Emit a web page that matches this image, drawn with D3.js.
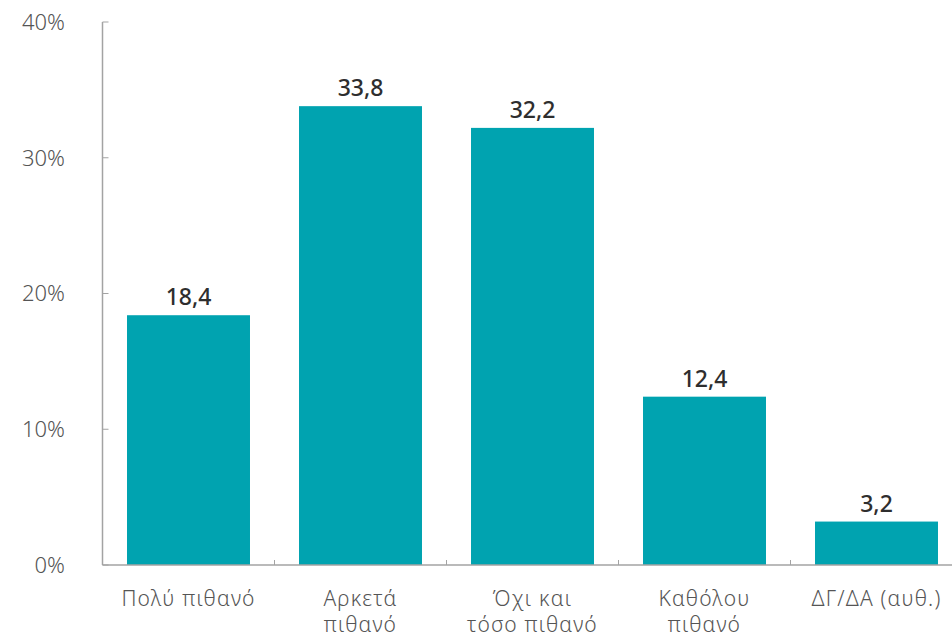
<!DOCTYPE html>
<html>
<head>
<meta charset="utf-8">
<script src="https://cdn.jsdelivr.net/npm/d3@7"></script>
<style>
  html, body { margin: 0; padding: 0; background: #fff; }
  svg { display: block; }
</style>
</head>
<body>
<div id="chart"></div>
<script>
// data
const categories = [["Πολύ πιθανό"], ["Αρκετά", "πιθανό"], ["Όχι και", "τόσο πιθανό"], ["Καθόλου", "πιθανό"], ["ΔΓ/ΔΑ (αυθ.)"]];
const values = [18.4, 33.8, 32.2, 12.4, 3.2];
const yTicks = [0, 10, 20, 30, 40];

const width = 952, height = 638;
const plotLeft = 102.5, plotTop = 22, plotBottom = 565;
const bandW = 172;

const svg = d3.select("#chart").append("svg")
    .attr("width", width)
    .attr("height", height);

const x = d3.scaleBand()
    .domain(d3.range(values.length))
    .range([plotLeft, plotLeft + bandW * values.length])
    .paddingInner(0.285)
    .paddingOuter(0.1425);

const y = d3.scaleLinear().domain([0, 40]).range([plotBottom, plotTop]);

const axisColor = "#a3a3a3";
const font = "'Noto Sans', Lato, sans-serif";

// bars
svg.append("g").selectAll("rect")
    .data(values)
    .enter().append("rect")
    .attr("x", (d, i) => x(i))
    .attr("y", d => y(d))
    .attr("width", x.bandwidth())
    .attr("height", d => y(0) - y(d))
    .attr("fill", "#00a3b0");

// value labels
svg.append("g").selectAll("text")
    .data(values)
    .enter().append("text")
    .attr("x", (d, i) => x(i) + x.bandwidth() / 2)
    .attr("y", d => y(d) - 10)
    .attr("text-anchor", "middle")
    .attr("font-family", font)
    .attr("font-weight", 500)
    .attr("font-size", 23)
    .attr("fill", "#2e2e2e")
    .text(d => d.toFixed(1).replace(".", ","));

// y axis
const yAxis = svg.append("g");
yAxis.append("line")
    .attr("x1", plotLeft).attr("x2", plotLeft)
    .attr("y1", y(40)).attr("y2", y(0))
    .attr("stroke", axisColor).attr("stroke-width", 1.5);
yAxis.selectAll("line.tick")
    .data(yTicks)
    .enter().append("line")
    .attr("class", "tick")
    .attr("x1", plotLeft).attr("x2", plotLeft + 6)
    .attr("y1", d => y(d)).attr("y2", d => y(d))
    .attr("stroke", axisColor).attr("stroke-width", 1);
yAxis.selectAll("text")
    .data(yTicks)
    .enter().append("text")
    .attr("x", 65)
    .attr("y", d => y(d))
    .attr("dy", "0.36em")
    .attr("text-anchor", "end")
    .attr("font-family", font)
    .attr("font-weight", 300)
    .attr("font-size", 22)
    .attr("fill", "#555")
    .text(d => d + "%");

// x axis
const xAxis = svg.append("g");
xAxis.append("line")
    .attr("x1", plotLeft).attr("x2", width)
    .attr("y1", plotBottom).attr("y2", plotBottom)
    .attr("stroke", axisColor).attr("stroke-width", 1.5);
xAxis.selectAll("line.tick")
    .data(d3.range(1, values.length))
    .enter().append("line")
    .attr("class", "tick")
    .attr("x1", d => plotLeft + d * bandW).attr("x2", d => plotLeft + d * bandW)
    .attr("y1", plotBottom).attr("y2", plotBottom - 5)
    .attr("stroke", axisColor).attr("stroke-width", 1);

const catLabels = xAxis.selectAll("text")
    .data(categories)
    .enter().append("text")
    .attr("y", 606)
    .attr("text-anchor", "middle")
    .attr("font-family", font)
    .attr("font-weight", 300)
    .attr("font-size", 21)
    .attr("letter-spacing", 1.2)
    .attr("fill", "#555");
catLabels.each(function (d, i) {
    const t = d3.select(this);
    d.forEach((line, j) => {
        t.append("tspan")
            .attr("x", x(i) + x.bandwidth() / 2)
            .attr("dy", j === 0 ? 0 : 26)
            .text(line);
    });
});
</script>
</body>
</html>
